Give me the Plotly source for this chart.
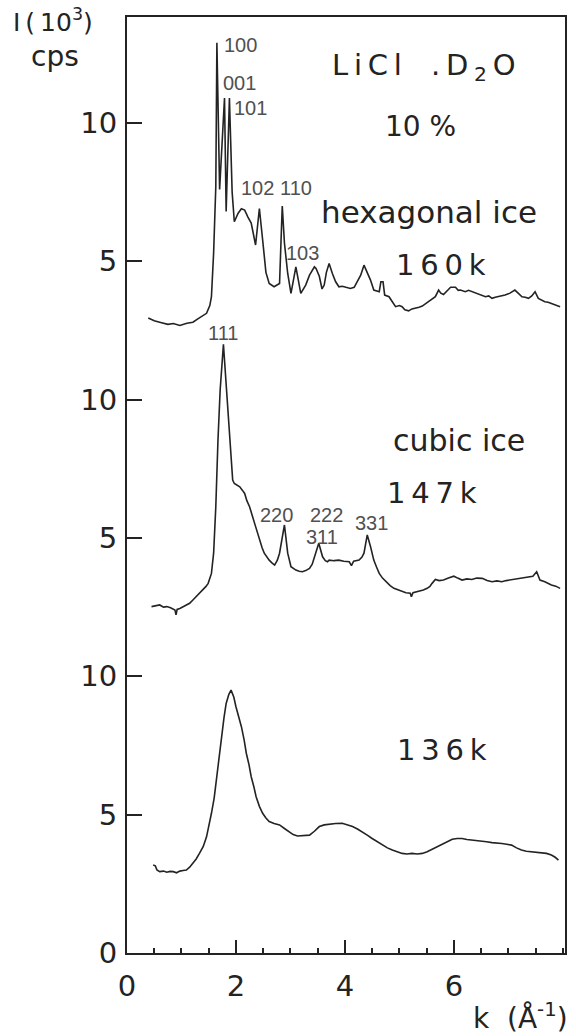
import plotly.graph_objects as go

# ---- data (intensity in 10^3 cps, per panel) ----
k_hex = [0.39,0.50,0.60,0.75,0.85,0.97,1.10,1.21,1.30,1.37,1.46,1.52,1.55,1.59,1.63,1.65,1.70,1.79,1.82,1.88,1.93,1.97,
         2.04,2.10,2.16,2.22,2.28,2.36,2.43,2.49,2.55,2.61,2.70,2.80,2.85,2.89,2.95,3.01,3.10,3.19,3.28,3.35,3.41,3.44,
         3.47,3.53,3.58,3.62,3.66,3.71,3.77,3.83,3.89,3.95,4.02,4.10,4.17,4.23,4.29,4.35,4.41,4.47,4.53,4.63,4.66,4.70,
         4.73,4.81,4.87,4.93,5.00,5.05,5.10,5.17,5.23,5.30,5.36,5.42,5.48,5.54,5.60,5.66,5.72,5.76,5.81,5.88,5.94,6.03,
         6.08,6.12,6.21,6.27,6.33,6.40,6.45,6.52,6.58,6.64,6.70,6.76,6.82,6.88,6.94,7.03,7.12,7.18,7.25,7.31,7.37,7.43,
         7.49,7.55,7.61,7.67,7.73,7.79,7.87,7.95]
i_hex = [2.95,2.85,2.80,2.72,2.75,2.68,2.76,2.80,2.92,3.00,3.12,3.40,3.72,5.30,7.70,12.90,7.60,10.90,6.80,10.90,7.50,6.43,
         6.74,6.90,6.85,6.60,6.38,5.59,6.91,5.77,4.60,4.20,4.08,4.20,7.00,5.66,4.56,3.84,4.80,3.84,4.14,4.50,4.68,4.80,
         4.74,4.46,4.00,4.14,4.60,4.92,4.56,4.26,4.08,4.10,4.06,4.02,4.06,4.26,4.50,4.86,4.62,4.32,3.96,3.90,4.26,4.26,
         3.78,3.72,3.54,3.36,3.40,3.36,3.25,3.21,3.28,3.30,3.34,3.38,3.46,3.54,3.62,3.72,3.96,3.85,3.80,3.95,4.06,4.06,
         3.95,3.96,3.90,3.95,3.90,3.85,3.80,3.75,3.72,3.75,3.66,3.70,3.72,3.75,3.78,3.85,3.96,3.85,3.72,3.70,3.66,3.75,
         3.90,3.66,3.60,3.54,3.52,3.48,3.42,3.36]

k_cub = [0.45,0.52,0.60,0.67,0.73,0.80,0.88,0.90,0.92,0.97,1.03,1.09,1.15,1.21,1.27,1.34,1.40,1.45,1.49,1.55,1.59,1.63,
         1.67,1.71,1.77,1.83,1.90,1.94,1.97,2.02,2.07,2.12,2.16,2.20,2.25,2.30,2.34,2.38,2.43,2.48,2.52,2.57,2.61,2.66,
         2.71,2.76,2.80,2.89,2.95,3.01,3.06,3.10,3.16,3.22,3.28,3.35,3.40,3.44,3.52,3.59,3.64,3.68,3.71,3.80,3.89,3.98,
         4.08,4.12,4.16,4.26,4.31,4.35,4.41,4.47,4.53,4.58,4.63,4.69,4.75,4.83,4.90,4.97,5.05,5.12,5.20,5.22,5.25,5.30,
         5.36,5.44,5.51,5.56,5.60,5.66,5.73,5.81,5.90,6.00,6.07,6.15,6.24,6.33,6.42,6.52,6.61,6.70,6.79,6.88,6.96,7.03,
         7.10,7.18,7.27,7.37,7.45,7.52,7.58,7.67,7.73,7.79,7.87,7.95]
i_cub = [2.52,2.55,2.58,2.50,2.52,2.48,2.40,2.22,2.42,2.45,2.52,2.58,2.64,2.76,2.88,3.00,3.12,3.25,3.36,3.72,4.45,6.13,
         8.54,10.35,12.00,10.35,8.54,7.09,6.97,6.92,6.85,6.72,6.61,6.35,6.13,5.80,5.53,5.25,4.93,4.65,4.45,4.30,4.20,4.10,
         4.02,4.20,4.45,5.47,4.45,3.96,3.88,3.84,3.80,3.78,3.82,3.90,4.05,4.32,4.81,4.32,4.18,4.14,4.20,4.18,4.20,4.16,
         4.14,4.00,4.16,4.20,4.30,4.45,5.11,4.69,4.20,3.95,3.72,3.55,3.42,3.28,3.18,3.12,3.06,3.02,3.00,2.88,3.02,3.04,
         3.06,3.12,3.18,3.25,3.36,3.50,3.46,3.48,3.55,3.62,3.55,3.48,3.52,3.50,3.55,3.54,3.46,3.42,3.45,3.42,3.46,3.48,
         3.50,3.54,3.56,3.58,3.62,3.78,3.48,3.42,3.36,3.30,3.26,3.18]

k_am = [0.48,0.52,0.55,0.60,0.67,0.73,0.79,0.85,0.91,0.97,1.03,1.09,1.15,1.21,1.27,1.33,1.40,1.46,1.50,1.55,1.60,1.64,
        1.69,1.73,1.78,1.82,1.87,1.91,1.96,2.00,2.05,2.10,2.15,2.19,2.24,2.28,2.33,2.37,2.43,2.49,2.55,2.61,2.70,2.80,
        2.89,2.98,3.05,3.13,3.24,3.35,3.44,3.53,3.62,3.71,3.83,3.95,4.05,4.14,4.23,4.32,4.41,4.50,4.60,4.69,4.78,4.87,
        4.96,5.05,5.14,5.23,5.33,5.42,5.51,5.60,5.69,5.78,5.88,5.97,6.06,6.15,6.24,6.33,6.42,6.51,6.60,6.70,6.79,6.88,
        6.97,7.06,7.15,7.24,7.33,7.43,7.52,7.61,7.70,7.79,7.86,7.92]
i_am = [3.18,3.15,3.00,2.94,2.96,2.92,2.95,2.94,2.90,2.96,2.98,3.00,3.10,3.24,3.40,3.60,3.85,4.20,4.55,5.05,5.60,6.25,
        7.05,7.82,8.50,9.02,9.35,9.50,9.25,8.90,8.55,8.18,7.70,7.22,6.80,6.37,6.00,5.65,5.30,5.05,4.88,4.75,4.68,4.63,
        4.50,4.38,4.28,4.23,4.24,4.26,4.40,4.57,4.63,4.66,4.68,4.69,4.64,4.57,4.48,4.38,4.26,4.14,4.02,3.90,3.80,3.72,
        3.65,3.60,3.58,3.60,3.58,3.60,3.66,3.75,3.82,3.90,4.02,4.11,4.14,4.14,4.10,4.08,4.08,4.06,4.02,3.99,3.98,3.96,
        3.93,3.90,3.80,3.72,3.68,3.66,3.65,3.64,3.60,3.54,3.46,3.36]

offsets = [20, 10, 0]  # vertical stacking of the three scans

ytick_vals = [0, 5, 10, 15, 20, 25, 30]
ytick_text = ["0", "5", "10", "5", "10", "5", "10"]
xtick_vals = [0, 2, 4, 6]
xtick_text = ["0", "2", "4", "6"]

peak_labels = ["100", "001", "101", "102", "110", "103", "111", "220", "222", "311", "331"]
peak_x = [2.08, 2.07, 2.27, 2.39, 3.11, 3.22, 1.77, 2.74, 3.67, 3.58, 4.48]
peak_y = [32.81, 31.44, 30.54, 27.65, 27.65, 25.30, 22.41, 15.83, 15.83, 15.03, 15.54]

FONT = "DejaVu Sans"
INK = "#232323"

fig = go.Figure()
for k, i, off in zip([k_hex, k_cub, k_am], [i_hex, i_cub, i_am], offsets):
    fig.add_trace(go.Scatter(x=k, y=[v + off for v in i], mode="lines",
                             line=dict(color=INK, width=1.6), showlegend=False,
                             hoverinfo="skip"))

ann = []
for t, x, y in zip(peak_labels, peak_x, peak_y):
    ann.append(dict(x=x, y=y, text=t, showarrow=False, xanchor="center", yanchor="middle",
                    font=dict(family="Liberation Sans", size=20, color="#505050")))

big = [
    ("L\u2009i\u2009C\u2009l\u2003.\u2009D\u2009<sub>2</sub>\u2009O", 5.45, 32.02, 29),
    ("10 %", 5.39, 29.89, 28),
    ("hexagonal ice", 5.54, 26.78, 31),
    ("1\u20096\u20090\u2009k", 5.76, 24.86, 29),
    ("cubic ice", 6.09, 18.54, 30),
    ("1\u20094\u20097\u2009k", 5.59, 16.62, 29),
    ("1\u20093\u20096\u2009k", 5.78, 7.34, 29),
]
for t, x, y, s in big:
    ann.append(dict(x=x, y=y, text=t, showarrow=False, xanchor="center", yanchor="middle",
                    font=dict(family=FONT, size=s, color=INK)))

ann.append(dict(xref="paper", yref="paper", x=-0.17, y=0.996, text="I\u2009(\u200910<sup>3</sup>)",
                showarrow=False, xanchor="center", yanchor="middle",
                font=dict(family=FONT, size=25, color=INK)))
ann.append(dict(xref="paper", yref="paper", x=-0.165, y=0.958, text="cps",
                showarrow=False, xanchor="center", yanchor="middle",
                font=dict(family=FONT, size=28, color=INK)))
ann.append(dict(xref="paper", yref="paper", x=1.012, y=-0.068, text="k  (Å<sup>-1</sup>)",
                showarrow=False, xanchor="right", yanchor="middle",
                font=dict(family=FONT, size=28, color=INK)))

fig.update_layout(
    width=576, height=1036,
    margin=dict(l=127, r=9, t=17, b=83),
    paper_bgcolor="white", plot_bgcolor="white",
    annotations=ann,
    showlegend=False,
)
fig.update_xaxes(range=[0, 8.04], tickvals=xtick_vals, ticktext=xtick_text,
                 ticks="inside", ticklen=13, tickwidth=1.5, tickcolor=INK,
                 minor=dict(dtick=0.5, ticks="inside", ticklen=5, tickwidth=1.5, tickcolor=INK),
                 showline=True, linecolor=INK, linewidth=2, mirror=True,
                 showgrid=False, zeroline=False, ticklabelstandoff=6,
                 tickfont=dict(family=FONT, size=29, color=INK))
fig.update_yaxes(range=[0, 33.83], tickvals=ytick_vals, ticktext=ytick_text,
                 ticks="inside", ticklen=15, tickwidth=1.5, tickcolor=INK,
                 showline=True, linecolor=INK, linewidth=2, mirror=True,
                 showgrid=False, zeroline=False, ticklabelstandoff=2,
                 tickfont=dict(family=FONT, size=29, color=INK))

fig.write_html("out.html")
